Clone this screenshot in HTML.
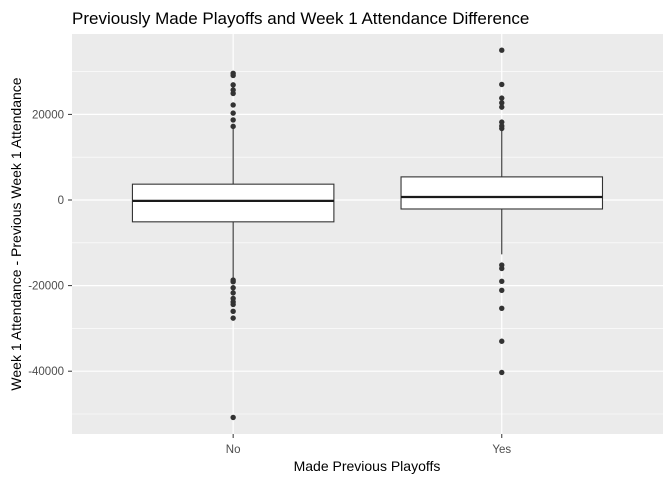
<!DOCTYPE html>
<html><head><meta charset="utf-8"><style>
body{margin:0;background:#fff;font-family:"Liberation Sans",Arial,sans-serif}
</style></head><body>
<svg width="672" height="480" xmlns="http://www.w3.org/2000/svg" font-family="Liberation Sans, Arial, sans-serif">
<text x="72" y="24" font-size="17" fill="#000">Previously Made Playoffs and Week 1 Attendance Difference</text>
<rect x="72" y="34" width="591" height="400" fill="#ebebeb"/>
<g id="grid"></g>
<g id="marks"></g>
<g id="axes"></g>
<text x="367" y="471" font-size="14" text-anchor="middle" fill="#000">Made Previous Playoffs</text>
<text transform="translate(21,234) rotate(-90)" font-size="14" text-anchor="middle" fill="#000">Week 1 Attendance - Previous Week 1 Attendance</text>
</svg>
<script>
const categories=["No","Yes"];
const q1=[-5100,-2100];
const medians=[-200,700];
const q3=[3700,5400];
const whiskerLow=[-18500,-12700];
const whiskerHigh=[16800,16400];
const outliersNo=[29600,29100,26900,25700,24900,22200,20300,18700,17200,-18700,-19100,-20500,-21700,-23000,-23800,-24400,-26000,-27600,-50800];
const outliersYes=[35000,27000,23800,22700,21700,18200,17300,16700,-15200,-16000,-19000,-21100,-25300,-33000,-40300];
const yTicks=[-40000,-20000,0,20000];
const yMinor=[-50000,-30000,-10000,10000,30000];
const NS="http://www.w3.org/2000/svg";
const y=v=>200-v*0.00428;
const x=i=>72+(i+1-0.4)*268.6;
const bw=0.75*268.6;
function mk(p,t,a){const e=document.createElementNS(NS,t);for(const k in a)e.setAttribute(k,a[k]);p.appendChild(e);return e;}
const grid=document.getElementById('grid'),marks=document.getElementById('marks'),axes=document.getElementById('axes');
yMinor.forEach(v=>{const l=mk(grid,'line',{x1:72,x2:663,y1:y(v),y2:y(v),stroke:'#fff','stroke-width':0.6});

});
yTicks.forEach(v=>{const l=mk(grid,'line',{x1:72,x2:663,y1:y(v),y2:y(v),stroke:'#fff','stroke-width':1.2});


const t=mk(axes,'text',{x:64,y:y(v)+4,'font-size':11.5,'text-anchor':'end',fill:'#4d4d4d'});t.textContent=v;


const tk=mk(axes,'line',{x1:68,x2:72,y1:y(v),y2:y(v),stroke:'#333','stroke-width':1});

});
categories.forEach((c,i)=>{const cx=x(i);
const g=mk(grid,'line',{x1:cx,x2:cx,y1:34,y2:434,stroke:'#fff','stroke-width':1.2});


const w1=mk(marks,'line',{x1:cx,x2:cx,y1:y(whiskerHigh[i]),y2:y(q3[i]),stroke:'#333','stroke-width':1.1});


const w2=mk(marks,'line',{x1:cx,x2:cx,y1:y(q1[i]),y2:y(whiskerLow[i]),stroke:'#333','stroke-width':1.1});


const b=mk(marks,'rect',{x:cx-bw/2,y:y(q3[i]),width:bw,height:y(q1[i])-y(q3[i]),fill:'#fff',stroke:'#333','stroke-width':1.1});


const m=mk(marks,'line',{x1:cx-bw/2,x2:cx+bw/2,y1:y(medians[i]),y2:y(medians[i]),stroke:'#1a1a1a','stroke-width':2.2});


(i===0?outliersNo:outliersYes).forEach(v=>{const o=mk(marks,'circle',{cx:cx,cy:y(v),r:2.7,fill:'#333'});

});
const tk=mk(axes,'line',{x1:cx,x2:cx,y1:434,y2:438,stroke:'#333','stroke-width':1});


const t=mk(axes,'text',{x:cx,y:453,'font-size':11.5,'text-anchor':'middle',fill:'#4d4d4d'});t.textContent=c;

});
</script>
</body></html>
